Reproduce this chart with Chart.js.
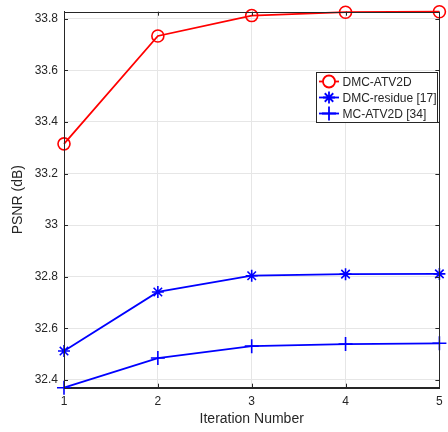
<!DOCTYPE html>
<html>
<head>
<meta charset="utf-8">
<script src="https://cdn.jsdelivr.net/npm/chart.js@4"></script>
<style>
html, body { margin: 0; padding: 0; background: #fff; }
</style>
</head>
<body>
<canvas id="myChart" width="448" height="432"></canvas>
<script>
var iterations = ['1', '2', '3', '4', '5'];
var dmcAtv2d = [33.315, 33.733, 33.812, 33.825, 33.827];
var dmcResidue = [32.512, 32.741, 32.804, 32.810, 32.811];
var mcAtv2d = [32.370, 32.485, 32.531, 32.539, 32.542];
var yTicks = [32.4, 32.6, 32.8, 33, 33.2, 33.4, 33.6, 33.8];
var yMin = 32.37;
var yMax = 33.827;

var axisColor = '#262626';
var fontFamily = '"Liberation Sans", Arial, Helvetica, sans-serif';

// MATLAB-like box with inward ticks
var boxPlugin = {
    id: 'matlabBox',
    afterDraw: function (chart) {
        var a = chart.chartArea, ctx = chart.ctx, len = 4;
        ctx.save();
        ctx.strokeStyle = axisColor;
        ctx.lineWidth = 1;
        ctx.strokeRect(Math.round(a.left) + 0.5, Math.round(a.top) + 0.5,
            Math.round(a.right - a.left), Math.round(a.bottom - a.top));
        ctx.beginPath();
        chart.scales.y.ticks.forEach(function (t) {
            var y = Math.round(chart.scales.y.getPixelForValue(t.value)) + 0.5;
            ctx.moveTo(a.left, y); ctx.lineTo(a.left + len, y);
            ctx.moveTo(a.right, y); ctx.lineTo(a.right - len, y);
        });
        chart.scales.x.ticks.forEach(function (t, i) {
            var x = Math.round(chart.scales.x.getPixelForTick(i)) + 0.5;
            ctx.moveTo(x, a.bottom); ctx.lineTo(x, a.bottom - len);
            ctx.moveTo(x, a.top); ctx.lineTo(x, a.top + len);
        });
        ctx.stroke();
        ctx.restore();
    }
};

// legend box inside the plot, top right
var legendPlugin = {
    id: 'boxLegend',
    afterDraw: function (chart) {
        var ctx = chart.ctx;
        var x0 = 316, y0 = 72, w = 121, h = 50, rowH = 16;
        ctx.save();
        ctx.fillStyle = '#fff';
        ctx.fillRect(x0, y0, w, h);
        ctx.strokeStyle = axisColor;
        ctx.lineWidth = 1;
        ctx.strokeRect(x0 + 0.5, y0 + 0.5, w, h);
        ctx.font = '12px ' + fontFamily;
        ctx.textBaseline = 'middle';
        chart.data.datasets.forEach(function (ds, i) {
            var cy = y0 + 9.5 + i * rowH;
            ctx.strokeStyle = ds.borderColor;
            ctx.lineWidth = ds.borderWidth;
            ctx.beginPath();
            ctx.moveTo(x0 + 3, cy);
            ctx.lineTo(x0 + 23, cy);
            ctx.stroke();
            Chart.helpers.drawPoint(ctx, {
                pointStyle: ds.pointStyle,
                radius: ds.pointRadius,
                borderWidth: ds.pointBorderWidth,
                rotation: 0
            }, x0 + 13, cy);
            ctx.fillStyle = axisColor;
            ctx.fillText(ds.label, x0 + 26.5, cy + 1);
        });
        ctx.restore();
    }
};

var ctx = document.getElementById('myChart').getContext('2d');
var psnrChart = new Chart(ctx, {
    type: 'line',
    data: {
        labels: iterations,
        datasets: [
            {
                label: 'DMC-ATV2D',
                data: dmcAtv2d,
                borderColor: '#ff0000',
                backgroundColor: 'rgba(0,0,0,0)',
                borderWidth: 1.8,
                pointStyle: 'circle',
                pointRadius: 6,
                pointBorderWidth: 1.6,
                pointBorderColor: '#ff0000',
                pointBackgroundColor: 'rgba(0,0,0,0)',
                clip: false
            },
            {
                label: 'DMC-residue [17]',
                data: dmcResidue,
                borderColor: '#0000ff',
                backgroundColor: 'rgba(0,0,0,0)',
                borderWidth: 1.8,
                pointStyle: 'star',
                pointRadius: 6,
                pointBorderWidth: 1.6,
                pointBorderColor: '#0000ff',
                clip: false
            },
            {
                label: 'MC-ATV2D [34]',
                data: mcAtv2d,
                borderColor: '#0000ff',
                backgroundColor: 'rgba(0,0,0,0)',
                borderWidth: 1.8,
                pointStyle: 'cross',
                pointRadius: 7,
                pointBorderWidth: 1.6,
                pointBorderColor: '#0000ff',
                clip: false
            }
        ]
    },
    options: {
        responsive: false,
        animation: false,
        devicePixelRatio: 1,
        layout: { padding: { top: 11.7, right: 7, left: 0, bottom: 0 } },
        scales: {
            x: {
                type: 'category',
                offset: false,
                grid: { color: '#e6e6e6', drawTicks: false },
                border: { color: axisColor },
                ticks: { color: axisColor, padding: 7, font: { family: fontFamily, size: 12 }, maxRotation: 0 },
                title: {
                    display: true,
                    text: 'Iteration Number',
                    color: axisColor,
                    font: { family: fontFamily, size: 14 },
                    padding: { top: 0, bottom: 4.5 }
                },
                afterFit: function (s) {
                    s.height = 44.3;
                    s.paddingLeft = 0;
                    s.paddingRight = 0;
                }
            },
            y: {
                type: 'linear',
                min: yMin,
                max: yMax,
                grid: { color: '#e6e6e6', drawTicks: false },
                border: { color: axisColor },
                afterBuildTicks: function (s) {
                    s.ticks = yTicks.map(function (v) { return { value: v }; });
                },
                ticks: {
                    color: axisColor,
                    padding: 6,
                    font: { family: fontFamily, size: 12 },
                    callback: function (v) { return String(+(+v).toFixed(1)); }
                },
                title: {
                    display: true,
                    text: 'PSNR (dB)',
                    color: axisColor,
                    font: { family: fontFamily, size: 14 },
                    padding: { top: 10, bottom: 0 }
                },
                afterFit: function (s) {
                    s.width = 64;
                    s.paddingTop = 0;
                    s.paddingBottom = 0;
                }
            }
        },
        plugins: {
            legend: { display: false },
            tooltip: { enabled: false }
        }
    },
    plugins: [boxPlugin, legendPlugin]
});
</script>
</body>
</html>
